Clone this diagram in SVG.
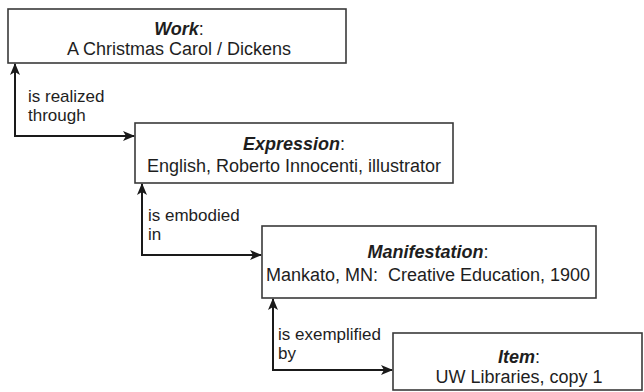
<svg xmlns="http://www.w3.org/2000/svg" width="644" height="392" viewBox="0 0 644 392">
<style>
.box{fill:#fff;stroke:#3a3a3a;stroke-width:1.6}
.t{font-family:"Liberation Sans",Arial,sans-serif;font-size:18px;fill:#1e1e1e;text-anchor:middle;white-space:pre}
.b{font-weight:bold;font-style:italic}
.lbl{font-family:"Liberation Sans",Arial,sans-serif;font-size:17px;fill:#1e1e1e}
.con{fill:none;stroke:#1a1a1a;stroke-width:2;marker-start:url(#ah);marker-end:url(#ah)}
</style>
<defs>
<marker id="ah" viewBox="0 0 12 10" refX="11" refY="5" markerWidth="12" markerHeight="10" markerUnits="userSpaceOnUse" orient="auto-start-reverse">
<path d="M0,0 L12,5 L0,10 L3,5 z" fill="#1a1a1a"/>
</marker>
</defs>
<rect width="644" height="392" fill="#fff"/>
<g id="work">
<rect class="box" x="8" y="9" width="338" height="54"/>
<text class="t" x="179" y="35"><tspan class="b">Work</tspan>:</text>
<text class="t" x="179" y="55">A Christmas Carol / Dickens</text>
</g>
<g id="expression">
<rect class="box" x="135" y="123" width="318" height="60"/>
<text class="t" x="294" y="150"><tspan class="b">Expression</tspan>:</text>
<text class="t" x="294" y="172">English, Roberto Innocenti, illustrator</text>
</g>
<g id="manifestation">
<rect class="box" x="262" y="226" width="334" height="72"/>
<text class="t" x="428" y="258"><tspan class="b">Manifestation</tspan>:</text>
<text class="t" x="428" y="281" xml:space="preserve">Mankato, MN:  Creative Education, 1900</text>
</g>
<g id="item">
<rect class="box" x="393" y="333" width="249" height="57"/>
<text class="t" x="519" y="363"><tspan class="b">Item</tspan>:</text>
<text class="t" x="519" y="383">UW Libraries, copy 1</text>
</g>
<g id="connectors">
<polyline class="con" points="15,64 15,136 134,136"/>
<polyline class="con" points="142,184 142,255 261,255"/>
<polyline class="con" points="273,299 273,370 392,370"/>
<text class="lbl" x="28" y="102">is realized</text>
<text class="lbl" x="28" y="121">through</text>
<text class="lbl" x="148" y="221">is embodied</text>
<text class="lbl" x="148" y="240">in</text>
<text class="lbl" x="278" y="340">is exemplified</text>
<text class="lbl" x="278" y="359">by</text>
</g>
</svg>
